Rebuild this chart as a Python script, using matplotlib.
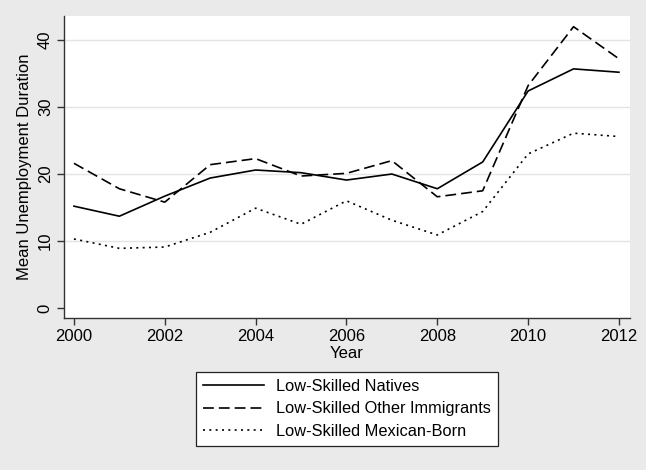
import matplotlib
matplotlib.use("Agg")
import matplotlib.pyplot as plt

plt.rcParams['font.family'] = ['Liberation Sans', 'DejaVu Sans']

years = list(range(2000, 2013))
natives = [15.2, 13.7, 16.7, 19.4, 20.6, 20.2, 19.1, 20.0, 17.8, 21.8, 32.4, 35.7, 35.2]
other_immigrants = [21.6, 17.8, 15.8, 21.4, 22.3, 19.7, 20.1, 22.0, 16.6, 17.5, 33.2, 42.0, 37.2]
mexican_born = [10.3, 8.9, 9.1, 11.3, 14.9, 12.5, 16.0, 13.1, 10.9, 14.4, 23.0, 26.1, 25.6]

xticks = [2000, 2002, 2004, 2006, 2008, 2010, 2012]
yticks = [0, 10, 20, 30, 40]

bg = '#eaeaea'
fig = plt.figure(figsize=(6.46, 4.70), dpi=100, facecolor=bg)
ax = fig.add_axes([0.099, 0.3234, 0.876, 0.6426])
ax.set_facecolor('white')

# gridlines (none at zero, like Stata)
for y in yticks[1:]:
    ax.axhline(y, color='#e4e4e4', lw=1.0, zorder=0)

l1, = ax.plot(years, natives, color='black', lw=1.2, label='Low-Skilled Natives')
l2, = ax.plot(years, other_immigrants, color='black', lw=1.2, dashes=(6.5, 3),
              label='Low-Skilled Other Immigrants')
l3, = ax.plot(years, mexican_born, color='black', lw=1.2, dashes=(1.2, 2.6),
              label='Low-Skilled Mexican-Born')

ax.set_xlim(1999.78, 2012.24)
ax.set_ylim(-1.5, 43.6)
ax.set_xticks(xticks)
ax.set_yticks(yticks)
ax.set_yticklabels([str(v) for v in yticks], rotation=90, va='center')
ax.tick_params(labelsize=12, direction='out', length=5, width=1, color='#333333', pad=3)

for s in ['top', 'right']:
    ax.spines[s].set_visible(False)
for s in ['left', 'bottom']:
    ax.spines[s].set_color('#333333')
    ax.spines[s].set_linewidth(1.0)

ax.set_xlabel('Year', fontsize=12, labelpad=1)
ax.set_ylabel('Mean Unemployment Duration', fontsize=12, labelpad=4)

leg = fig.legend(handles=[l1, l2, l3], loc='center', bbox_to_anchor=(0.537, 0.13),
                 fontsize=11.8, frameon=True, fancybox=False, edgecolor='#222222',
                 framealpha=1, facecolor='white', handlelength=3.7, handletextpad=0.7,
                 labelspacing=0.45, borderpad=0.45, borderaxespad=0)
leg.get_frame().set_linewidth(0.9)

fig.savefig('out.png', dpi=100, facecolor=bg)
